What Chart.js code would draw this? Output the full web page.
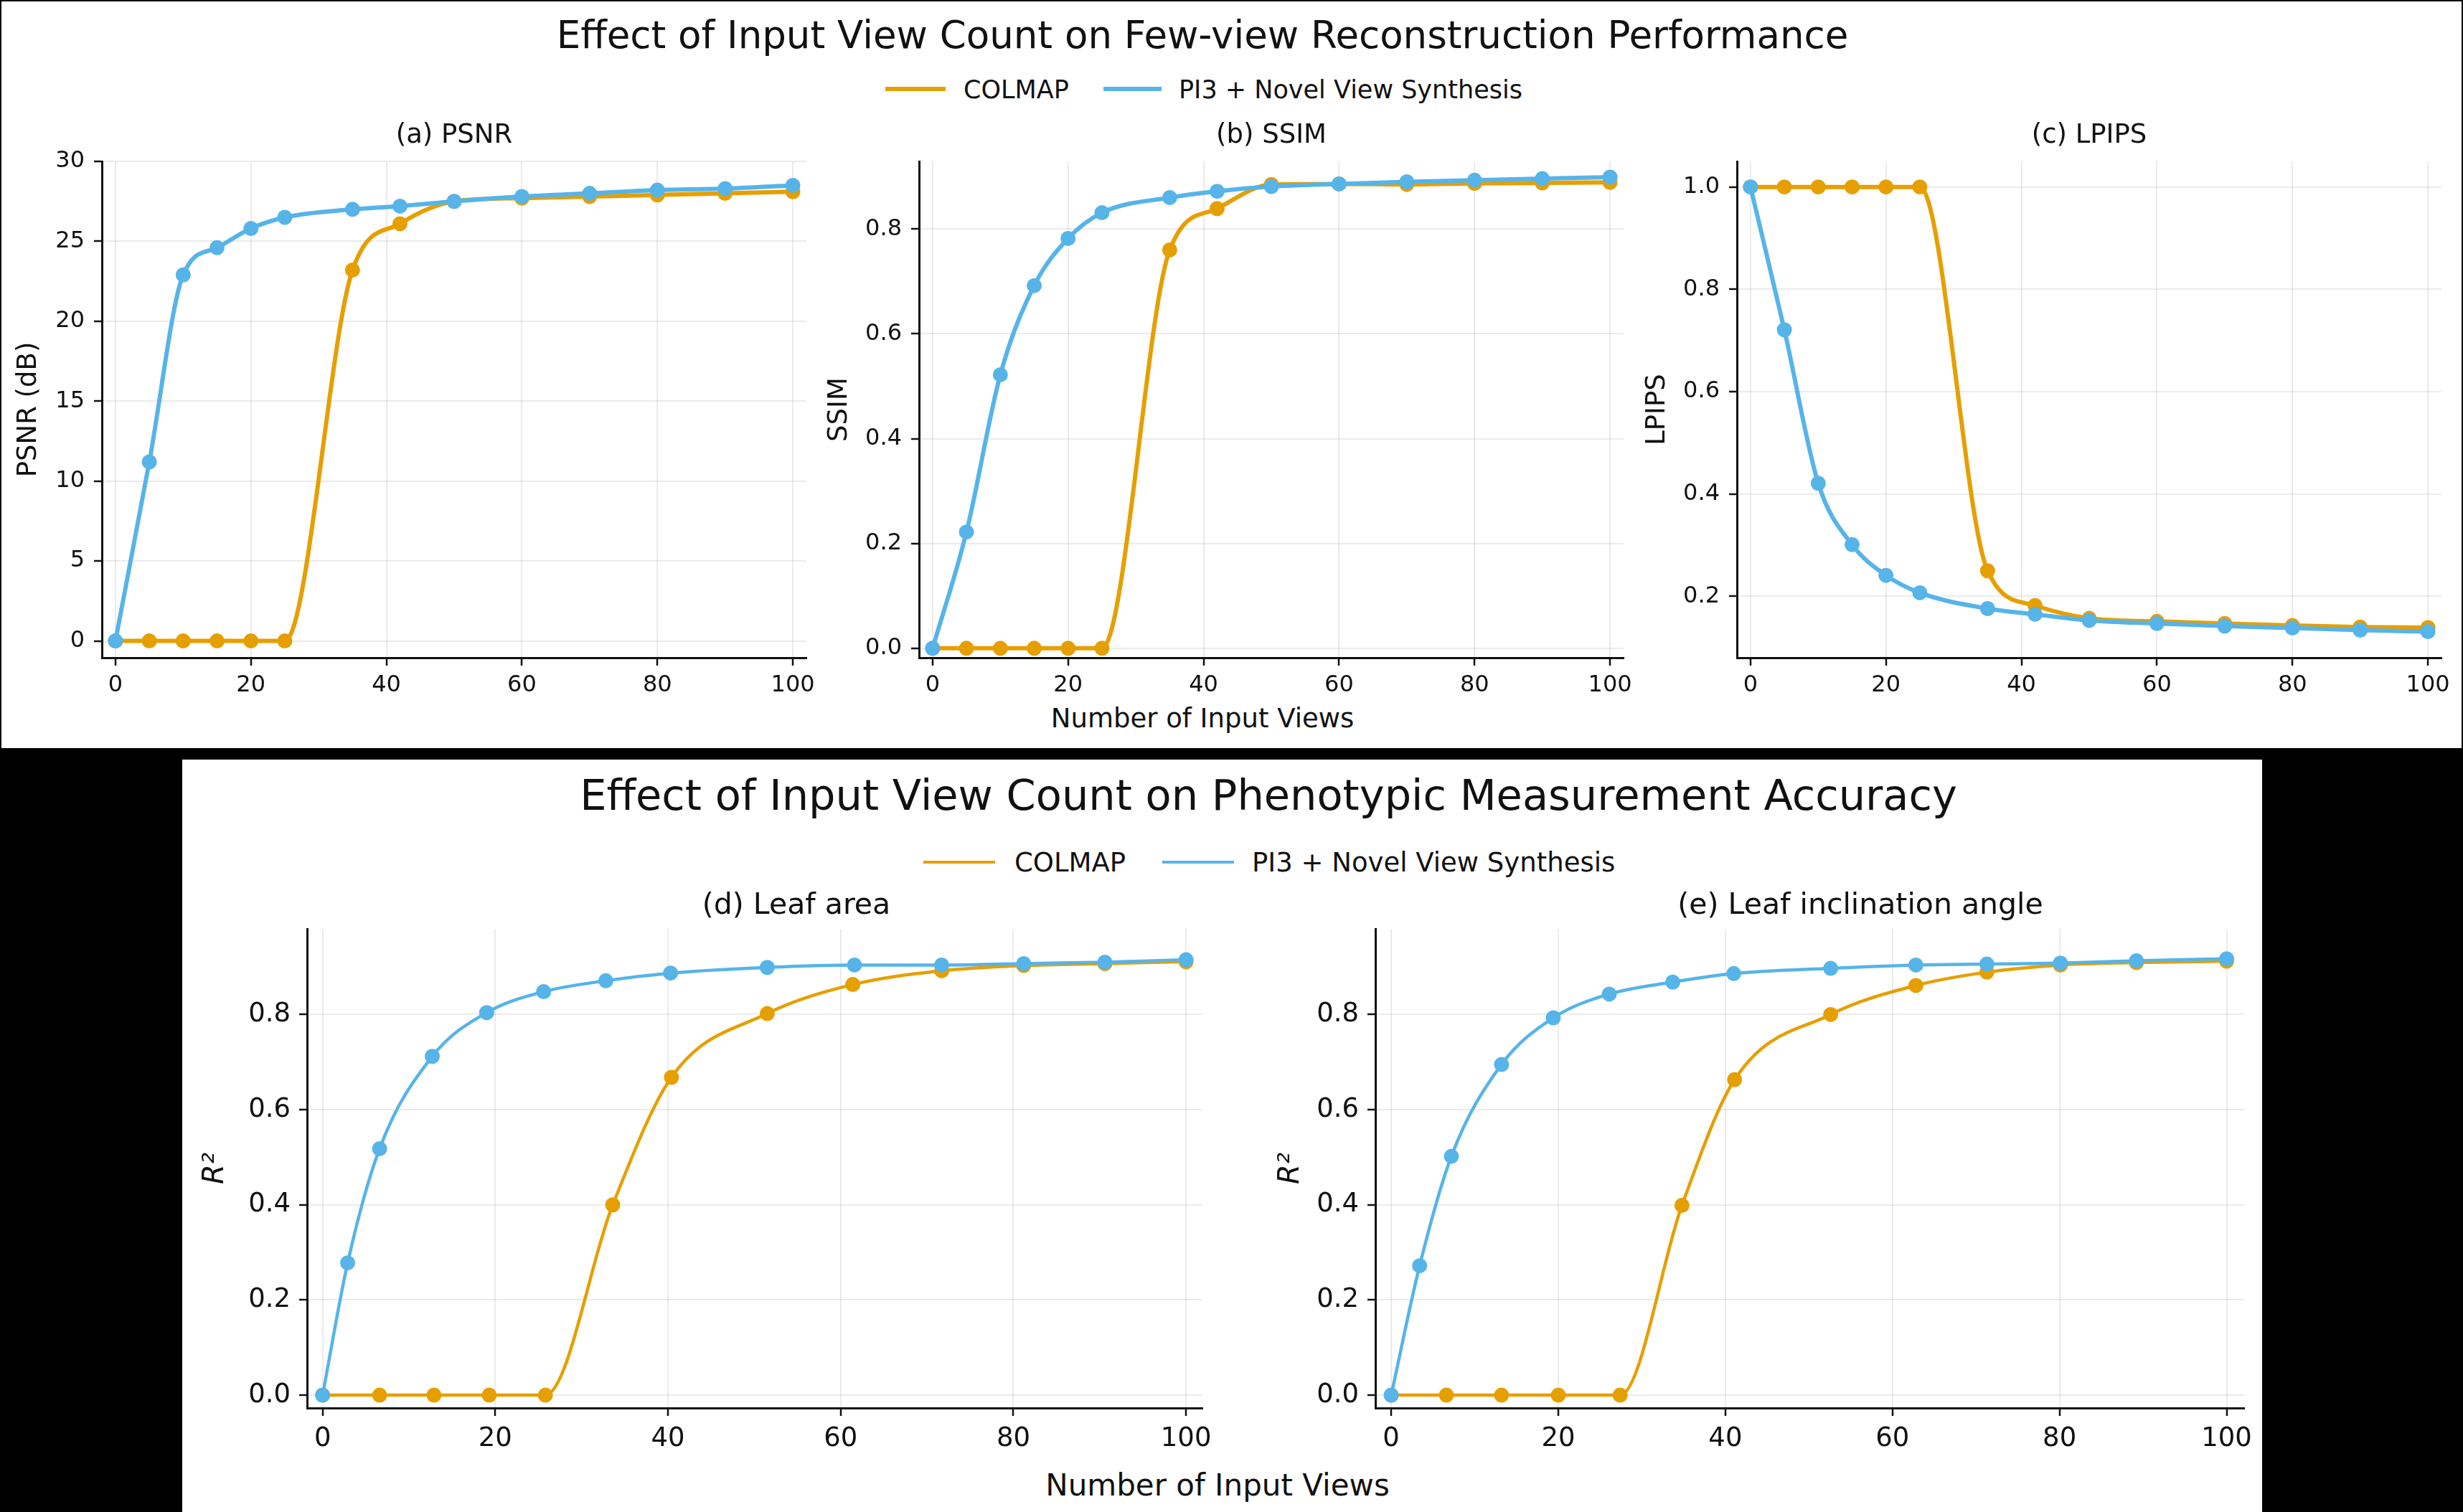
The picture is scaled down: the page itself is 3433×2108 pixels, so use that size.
<!DOCTYPE html>
<html>
<head>
<meta charset="utf-8">
<style>
  html, body { margin: 0; padding: 0; background: #000; overflow: hidden; }
  body { width: 3433px; height: 2108px; position: relative; font-family: "DejaVu Sans", sans-serif; color: #111; }
  .panel { position: absolute; background: #fff; }
  canvas { position: absolute; }
  .txt { position: absolute; white-space: nowrap; line-height: 1; }
  .c { transform: translate(-50%, -50%); }
  .l { transform: translateY(-50%); }
  .sw { position: absolute; }
</style>
</head>
<body>
<div class="panel" style="left:2px;top:2px;width:3429px;height:1041px"></div>
<div class="panel" style="left:254px;top:1059px;width:2899px;height:1049px"></div>

<!-- top figure: title, legend, shared x label -->
<div class="txt c" style="left:1676px;top:48px;font-size:53px">Effect of Input View Count on Few-view Reconstruction Performance</div>
<div class="sw" style="left:1234px;top:121px;width:84px;height:6px;background:#E69F00"></div>
<div class="txt l" style="left:1343px;top:125px;font-size:35px">COLMAP</div>
<div class="sw" style="left:1538px;top:121px;width:81px;height:6px;background:#56B4E9"></div>
<div class="txt l" style="left:1643px;top:125px;font-size:35px">PI3 + Novel View Synthesis</div>
<div class="txt c" style="left:1676px;top:1001px;font-size:37px">Number of Input Views</div>

<!-- bottom figure -->
<div class="txt c" style="left:1768px;top:1108px;font-size:59px">Effect of Input View Count on Phenotypic Measurement Accuracy</div>
<div class="sw" style="left:1287px;top:1200px;width:100px;height:4px;background:#E69F00"></div>
<div class="txt l" style="left:1414px;top:1202px;font-size:37px">COLMAP</div>
<div class="sw" style="left:1620px;top:1200px;width:100px;height:4px;background:#56B4E9"></div>
<div class="txt l" style="left:1745px;top:1202px;font-size:37px">PI3 + Novel View Synthesis</div>
<div class="txt c" style="left:1697px;top:2071px;font-size:42px">Number of Input Views</div>

<canvas id="psnr"></canvas>
<canvas id="ssim"></canvas>
<canvas id="lpips"></canvas>
<canvas id="leafArea"></canvas>
<canvas id="leafAngle"></canvas>

<script src="https://cdn.jsdelivr.net/npm/chart.js@4.4.1/dist/chart.umd.min.js"></script>
<script>
const ORANGE = '#E69F00', BLUE = '#56B4E9';
const FONT = "'DejaVu Sans', sans-serif";

// top row - reconstruction quality vs number of views
const topViews = [0, 5, 10, 15, 20, 25, 35, 42, 50, 60, 70, 80, 90, 100];
const psnrColmap = [0, 0, 0, 0, 0, 0, 23.2, 26.1, 27.5, 27.7, 27.8, 27.9, 28.0, 28.1];
const psnrPi3 = [0, 11.2, 22.9, 24.6, 25.8, 26.5, 27.0, 27.2, 27.5, 27.8, 28.0, 28.2, 28.3, 28.5];
const ssimColmap = [0, 0, 0, 0, 0, 0, 0.760, 0.839, 0.885, 0.886, 0.885, 0.887, 0.888, 0.889];
const ssimPi3 = [0, 0.222, 0.522, 0.692, 0.782, 0.831, 0.860, 0.872, 0.881, 0.886, 0.890, 0.893, 0.896, 0.899];
const lpipsColmap = [1, 1, 1, 1, 1, 1, 0.250, 0.182, 0.157, 0.151, 0.147, 0.143, 0.140, 0.139];
const lpipsPi3 = [1, 0.721, 0.421, 0.301, 0.241, 0.207, 0.176, 0.165, 0.153, 0.147, 0.142, 0.138, 0.134, 0.131];

// bottom row - phenotypic R^2 (views)
const areaColmapViews = [0, 6.6, 12.9, 19.3, 25.8, 33.6, 40.4, 51.5, 61.4, 71.7, 81.2, 90.6, 100];
const areaColmap = [0, 0, 0, 0, 0, 0.400, 0.668, 0.802, 0.863, 0.892, 0.903, 0.907, 0.911];
const areaPi3Views = [0, 2.9, 6.6, 12.7, 19.0, 25.6, 32.8, 40.3, 51.5, 61.6, 71.7, 81.2, 90.6, 100];
const areaPi3 = [0, 0.278, 0.518, 0.712, 0.804, 0.848, 0.871, 0.887, 0.899, 0.904, 0.904, 0.907, 0.910, 0.915];
const angleColmapViews = [0, 6.6, 13.2, 20.0, 27.4, 34.8, 41.1, 52.6, 62.8, 71.3, 80.1, 89.2, 100];
const angleColmap = [0, 0, 0, 0, 0, 0.399, 0.663, 0.800, 0.861, 0.889, 0.904, 0.909, 0.912];
const anglePi3Views = [0, 3.4, 7.2, 13.2, 19.4, 26.1, 33.7, 41.0, 52.6, 62.8, 71.3, 80.1, 89.2, 100];
const anglePi3 = [0, 0.272, 0.502, 0.695, 0.793, 0.843, 0.868, 0.886, 0.897, 0.904, 0.906, 0.908, 0.913, 0.917];

// ticks
const viewTicks = [0, 20, 40, 60, 80, 100];
const viewTickLabels = ['0', '20', '40', '60', '80', '100'];
const psnrTicks = [0, 5, 10, 15, 20, 25, 30];
const psnrTickLabels = ['0', '5', '10', '15', '20', '25', '30'];
const ssimTicks = [0, 0.2, 0.4, 0.6, 0.8];
const ssimTickLabels = ['0.0', '0.2', '0.4', '0.6', '0.8'];
const lpipsTicks = [0.2, 0.4, 0.6, 0.8, 1.0];
const lpipsTickLabels = ['0.2', '0.4', '0.6', '0.8', '1.0'];
const r2Ticks = [0, 0.2, 0.4, 0.6, 0.8];
const r2TickLabels = ['0.0', '0.2', '0.4', '0.6', '0.8'];

function pts(xs, ys) {
  return xs.map((x, i) => ({x: x, y: ys[i]}));
}

function panel(id, p) {
  const el = document.getElementById(id);
  el.width = p.w;
  el.height = p.h;
  el.style.left = p.left + 'px';
  el.style.top = p.top + 'px';
  const tickFont = {family: FONT, size: p.tickSize};
  return new Chart(el, {
    type: 'line',
    data: {
      datasets: [
        {label: 'PI3 + Novel View Synthesis', data: pts(p.piX, p.piY), borderColor: BLUE, backgroundColor: BLUE, order: 0},
        {label: 'COLMAP', data: pts(p.colX, p.colY), borderColor: ORANGE, backgroundColor: ORANGE, order: 1}
      ]
    },
    options: {
      responsive: false,
      animation: false,
      devicePixelRatio: 1,
      layout: {padding: 0},
      elements: {
        line: {borderWidth: p.lw, cubicInterpolationMode: 'monotone', fill: false},
        point: {radius: p.pr, hoverRadius: p.pr, borderWidth: 0}
      },
      plugins: {
        legend: {display: false},
        tooltip: {enabled: false},
        title: {
          display: true, text: p.title, color: '#111',
          font: {family: FONT, size: p.titleSize, weight: 'normal', lineHeight: 1.2},
          padding: p.titlePad
        }
      },
      scales: {
        x: {
          type: 'linear', min: p.xMin, max: p.xMax,
          afterBuildTicks: s => { s.ticks = viewTicks.map(v => ({value: v})); },
          afterFit: s => { s.height = p.xh; s.paddingLeft = 0; s.paddingRight = p.padR; },
          grid: {color: 'rgba(0,0,0,0.08)', lineWidth: 2, tickColor: '#111', tickWidth: 2.5, tickLength: 11},
          border: {color: '#111', width: 3},
          ticks: {color: '#111', font: tickFont, padding: p.xTickPad, maxRotation: 0, autoSkip: false,
                  callback: (v, i) => viewTickLabels[i]}
        },
        y: {
          type: 'linear', min: p.yMin, max: p.yMax,
          afterBuildTicks: s => { s.ticks = p.yTicks.map(v => ({value: v})); },
          afterFit: s => { s.width = p.yw; s.paddingTop = 0; s.paddingBottom = 0; },
          grid: {color: 'rgba(0,0,0,0.08)', lineWidth: 2, tickColor: '#111', tickWidth: 2.5, tickLength: 11},
          border: {color: '#111', width: 3},
          ticks: {color: '#111', font: tickFont, padding: p.yTickPad, autoSkip: false,
                  callback: (v, i) => p.yLabels[i]},
          title: {
            display: true, text: p.yTitle, color: '#111',
            font: {family: FONT, size: p.yTitleSize, style: p.yTitleStyle || 'normal', lineHeight: 1.2},
            padding: {top: p.yTitlePad, bottom: 0}
          }
        }
      }
    }
  });
}

const topCommon = {
  top: 150, h: 890, w: 1282, xh: 123, titleSize: 37, titlePad: {top: 16.8, bottom: 13.8},
  xMin: -2, xMax: 102, tickSize: 32, xTickPad: 8, yTickPad: 13, yTitleSize: 37, lw: 6, pr: 10.5
};

panel('psnr', Object.assign({}, topCommon, {
  left: 0, w: 1266, yw: 142, padR: 142, title: '(a) PSNR',
  colX: topViews, colY: psnrColmap, piX: topViews, piY: psnrPi3,
  yMin: -1.05, yMax: 30, yTicks: psnrTicks, yLabels: psnrTickLabels,
  yTitle: 'PSNR (dB)', yTitlePad: 17.8
}));
panel('ssim', Object.assign({}, topCommon, {
  left: 1131, yw: 150, padR: 150, title: '(b) SSIM',
  colX: topViews, colY: ssimColmap, piX: topViews, piY: ssimPi3,
  yMin: -0.018, yMax: 0.929, yTicks: ssimTicks, yLabels: ssimTickLabels,
  yTitle: 'SSIM', yTitlePad: 16.8
}));
panel('lpips', Object.assign({}, topCommon, {
  left: 2271, yw: 150, padR: 150, title: '(c) LPIPS',
  colX: topViews, colY: lpipsColmap, piX: topViews, piY: lpipsPi3,
  yMin: 0.08, yMax: 1.05, yTicks: lpipsTicks, yLabels: lpipsTickLabels,
  yTitle: 'LPIPS', yTitlePad: 16.8
}));

const bottomCommon = {
  top: 1215, h: 825, xh: 77, titleSize: 41, titlePad: {top: 23.4, bottom: 7.4},
  tickSize: 37, xTickPad: 10, yTickPad: 12, yTitleSize: 40, yTitleStyle: 'italic', lw: 4.5, pr: 10.5,
  yMin: -0.027, yMax: 0.98, yTicks: r2Ticks, yLabels: r2TickLabels, yTitle: 'R²'
};

panel('leafArea', Object.assign({}, bottomCommon, {
  left: 260, w: 1700, yw: 168, padR: 284, title: '(d) Leaf area',
  colX: areaColmapViews, colY: areaColmap, piX: areaPi3Views, piY: areaPi3,
  xMin: -1.8, xMax: 101.9, yTitlePad: 17
}));
panel('leafAngle', Object.assign({}, bottomCommon, {
  left: 1760, w: 1666, yw: 157, padR: 298, title: '(e) Leaf inclination angle',
  colX: angleColmapViews, colY: angleColmap, piX: anglePi3Views, piY: anglePi3,
  xMin: -1.9, xMax: 102.1, yTitlePad: 15.5
}));
</script>
</body>
</html>
